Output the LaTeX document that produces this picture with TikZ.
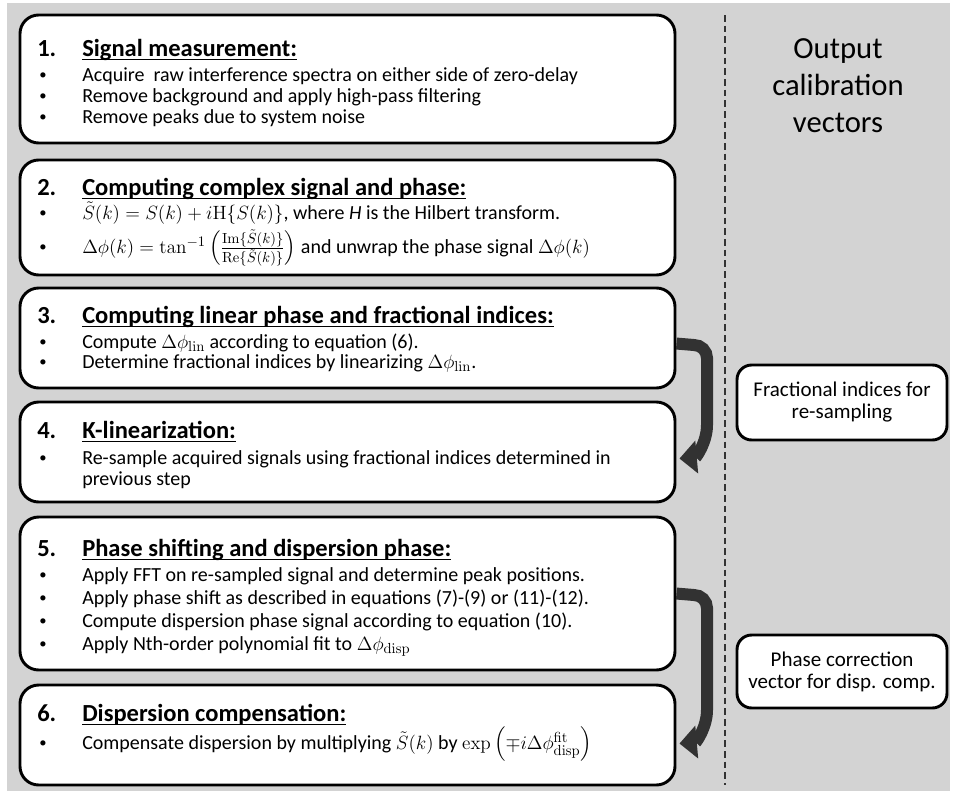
\documentclass[tikz,border=0pt]{standalone}
\usepackage{amsmath}
\usepackage[no-math]{fontspec}
\setmainfont{Carlito}
\usetikzlibrary{fit,calc,arrows.meta}
\definecolor{bggray}{RGB}{211,211,211}
\definecolor{arrowgray}{RGB}{50,50,50}
\newcommand{\myul}[1]{\setbox0\hbox{#1}\rlap{\rule[-3pt]{\wd0}{1pt}}\box0}
\newcommand{\numline}[4]{%
  \node[numtxt] (#1n) at (37,#2) {#3};
  \node[numtxt] (#1t) at (82,#2) {\myul{#4}};}
\newcommand{\bulline}[3]{%
  \node[dottxt] (#1d) at (39,#2) {\raisebox{1.2pt}{•}};
  \node[bodytxt] (#1) at (82,#2) {#3};}
\begin{document}
\begin{tikzpicture}[x=0.75pt,y=-0.75pt,
  stepbox/.style={draw=black,line width=2.2pt,fill=white,rounded corners=14pt,inner sep=0pt},
  outbox/.style={draw=black,line width=2.2pt,fill=white,rounded corners=11pt,inner sep=0pt},
  numtxt/.style={anchor=base west,inner sep=0pt,font=\fontsize{18.4pt}{22pt}\selectfont\bfseries},
  bodytxt/.style={anchor=base west,inner sep=0pt,font=\fontsize{15pt}{18pt}\selectfont},
  dottxt/.style={anchor=base west,inner sep=0pt,font=\fontsize{11pt}{12pt}\selectfont},
  ctrtxt/.style={align=center,inner sep=0pt,font=\fontsize{15.75pt}{16.5pt}\selectfont},
  bigarrow/.style={draw=arrowgray,line width=9pt,-{Triangle[width=24pt,length=13pt]}}]
\useasboundingbox (0,0) rectangle (953,793);
\fill[white] (0,0) rectangle (953,793);
\fill[bggray] (7,3) rectangle (950,791);
% dashed separator
\coordinate (dtop) at (725,15);
\coordinate (dbot) at (725,785);
\draw[black!80,line width=1.1pt,dash pattern=on 5pt off 3pt] (dtop) -- (dbot);
% step boxes
\node[stepbox,fit={(20,15)(675,143)}] (b1) {};
\node[stepbox,fit={(20,160)(675,275)}] (b2) {};
\node[stepbox,fit={(20,288)(675,388)}] (b3) {};
\node[stepbox,fit={(20,402)(675,502)}] (b4) {};
\node[stepbox,fit={(20,517)(675,670)}] (b5) {};
\node[stepbox,fit={(20,685)(675,785)}] (b6) {};
% output boxes
\node[outbox,fit={(737,365)(947,440)}] (o1) {};
\node[outbox,fit={(737,635)(947,708)}] (o2) {};
% texts
\numline{s1}{56}{1.}{Signal measurement:}
\bulline{s1a}{81}{Acquire\ \ raw interference spectra on either side of zero-delay}
\bulline{s1b}{102}{Remove background and apply high-pass filtering}
\bulline{s1c}{123}{Remove peaks due to system noise}
\numline{s2}{195}{2.}{Computing complex signal and phase:}
\bulline{s2a}{219}{$\tilde{S}(k)=S(k)+i\mathrm{H}\{S(k)\}$, where \textit{H} is the Hilbert transform.}
\bulline{s2b}{253}{$\Delta\phi(k)=\tan^{-1}\left(\frac{\mathrm{Im}\{\tilde{S}(k)\}}{\mathrm{Re}\{\tilde{S}(k)\}}\right)$ and unwrap the phase signal $\Delta\phi(k)$}
\numline{s3}{323}{3.}{Computing linear phase and fractional indices:}
\bulline{s3a}{348}{Compute $\Delta\phi_{\mathrm{lin}}$ according to equation (6).}
\bulline{s3b}{368}{Determine fractional indices by linearizing $\Delta\phi_{\mathrm{lin}}$.}
\numline{s4}{438}{4.}{K-linearization:}
\bulline{s4a}{464}{Re-sample acquired signals using fractional indices determined in}
\node[bodytxt] (s4b) at (82,485) {previous step};
\numline{s5}{556}{5.}{Phase shifting and dispersion phase:}
\bulline{s5a}{581}{Apply FFT on re-sampled signal and determine peak positions.}
\bulline{s5b}{604}{Apply phase shift as described in equations (7)-(9) or (11)-(12).}
\bulline{s5c}{627}{Compute dispersion phase signal according to equation (10).}
\bulline{s5d}{650}{Apply Nth-order polynomial fit to $\Delta\phi_{\mathrm{disp}}$}
\numline{s6}{721}{6.}{Dispersion compensation:}
\bulline{s6a}{749}{Compensate dispersion by multiplying $\tilde{S}(k)$ by $\exp\left(\mp i\Delta\phi^{\mathrm{fit}}_{\mathrm{disp}}\right)$}
% right column
\node[align=center,inner sep=0pt,font=\fontsize{23pt}{27.75pt}\selectfont] (head) at (838,86) {Output\\calibration\\vectors};
\node[ctrtxt] (o1t) at (o1.center) {Fractional indices for\\re-sampling};
\node[ctrtxt] (o2t) at (o2.center) {Phase correction\\vector for disp. comp.};
% arrows
\draw[bigarrow] ($(b3.north east)+(0,57)$) -- (694,345) to[out=0,in=90] (707,358) -- (707,425) to[out=-90,in=5] ($(b4.north east)+(3,58)$);
\draw[bigarrow] ($(b5.north east)+(0,78)$) -- (694,595) to[out=0,in=90] (707,608) -- (707,710) to[out=-90,in=5] ($(b6.north east)+(3,60)$);
\end{tikzpicture}
\end{document}
